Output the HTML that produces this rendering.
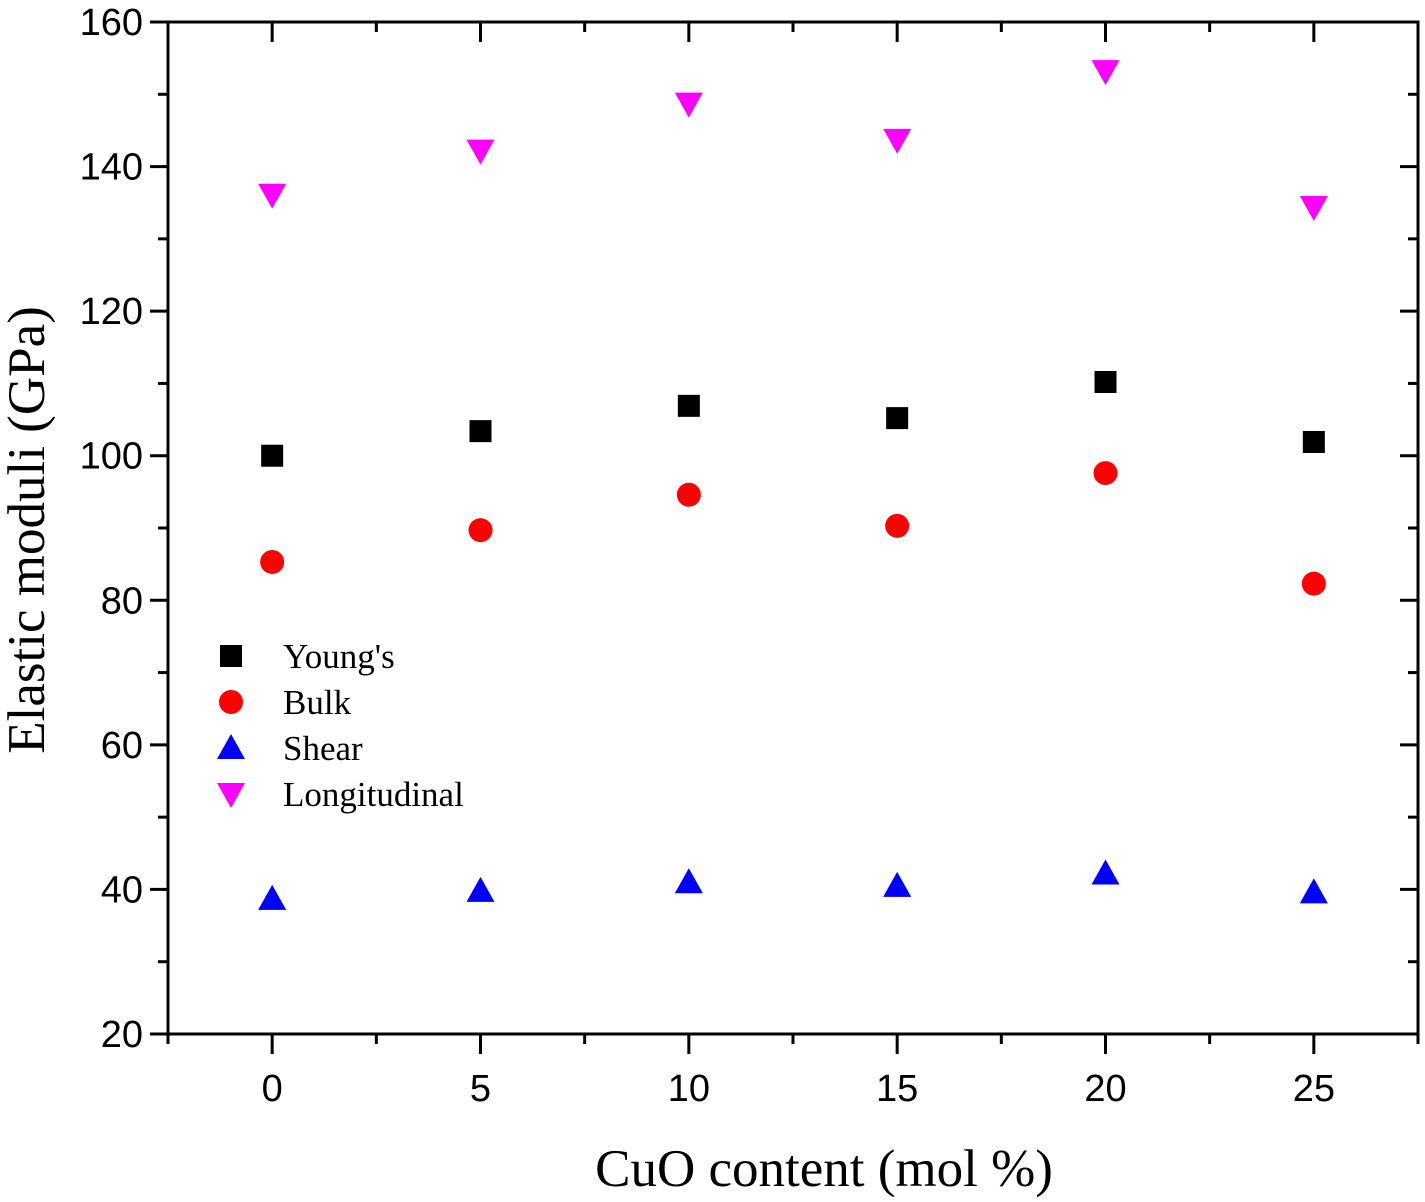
<!DOCTYPE html>
<html><head><meta charset="utf-8"><style>body{margin:0;background:#fff}svg{display:block}</style></head>
<body>
<svg id="chart" width="1425" height="1202" xmlns="http://www.w3.org/2000/svg" font-family="Liberation Sans, sans-serif"></svg>
<script>
const categories=[0,5,10,15,20,25];
const youngs=[100,103.4,106.9,105.2,110.2,101.9];
const bulk=[85.3,89.7,94.6,90.3,97.6,82.3];
const shear=[38.7,39.8,41.0,40.5,42.2,39.6];
const longitudinal=[136.1,142.2,148.7,143.7,153.2,134.4];
const yTicks=[20,40,60,80,100,120,140,160];
const xTicks=[0,5,10,15,20,25];
const L=168,R=1418,T=22,B=1034;
const xs=v=>L+(v+2.5)/30*(R-L);
const ys=v=>B-(v-20)/140*(B-T);
const svg=document.getElementById('chart');
const NS='http://www.w3.org/2000/svg';
function mk(tag,at,name,parent){const e=document.createElementNS(NS,tag);for(const k in at)e.setAttribute(k,at[k]);


(parent||svg).appendChild(e);return e;}
mk('rect',{x:L,y:T,width:R-L,height:B-T,fill:'none',stroke:'#000','stroke-width':3},'plot-frame');
for(let v=20;v<=160;v+=10){const y=ys(v),maj=v%20==0,len=maj?18:10;
mk('line',{x1:L-len,x2:L,y1:y,y2:y,stroke:'#000','stroke-width':3},'y-tick');
mk('line',{x1:R-len,x2:R,y1:y,y2:y,stroke:'#000','stroke-width':3},'y-tick-right');}
yTicks.forEach(v=>{const t=mk('text',{x:L-25,y:ys(v)+13,'text-anchor':'end','font-size':38},'y-tick-label');t.textContent=v;});
for(let v=-2.5;v<=27.5;v+=2.5){const x=xs(v),maj=Math.abs(v%5)<0.01,len=maj?20:10;
mk('line',{x1:x,x2:x,y1:B,y2:B+len,stroke:'#000','stroke-width':3},'x-tick');
mk('line',{x1:x,x2:x,y1:T,y2:T+len,stroke:'#000','stroke-width':3},'x-tick-top');}
xTicks.forEach(v=>{const t=mk('text',{x:xs(v),y:1101,'text-anchor':'middle','font-size':38},'x-tick-label');t.textContent=v;});
const xt=mk('text',{x:824,y:1186,'text-anchor':'middle','font-size':53,'font-family':'Liberation Serif, serif'},'x-axis-title');xt.textContent='CuO content (mol %)';
const yt=mk('text',{x:0,y:0,'text-anchor':'middle','font-size':53,'font-family':'Liberation Serif, serif',transform:'translate(44,530) rotate(-90)'},'y-axis-title');yt.textContent='Elastic moduli (GPa)';
function marker(type,x,y,name){
 if(type=='sq')return mk('rect',{x:x-11,y:y-11,width:22,height:22,fill:'#000'},name);
 if(type=='ci')return mk('circle',{cx:x,cy:y,r:12,fill:'#ff0000'},name);
 if(type=='up')return mk('polygon',{points:`${x},${y-14} ${x-14},${y+11} ${x+14},${y+11}`,fill:'#0000ff'},name);
 return mk('polygon',{points:`${x},${y+14} ${x-14},${y-11} ${x+14},${y-11}`,fill:'#ff00ff'},name);}
const series=[[youngs,'sq','youngs-point'],[bulk,'ci','bulk-point'],[shear,'up','shear-point'],[longitudinal,'dn','longitudinal-point']];
series.forEach(([arr,t,n])=>arr.forEach((v,i)=>marker(t,xs(categories[i]),ys(v),n)));
const leg=[['sq',"Young's"],['ci','Bulk'],['up','Shear'],['dn','Longitudinal']];
leg.forEach(([t,l],i)=>{const y=656+i*46;marker(t,231,y,'legend-marker');
const tx=mk('text',{x:283,y:y+12,'font-size':35,'font-family':'Liberation Serif, serif'},'legend-entry');tx.textContent=l;});
</script>
</body></html>
